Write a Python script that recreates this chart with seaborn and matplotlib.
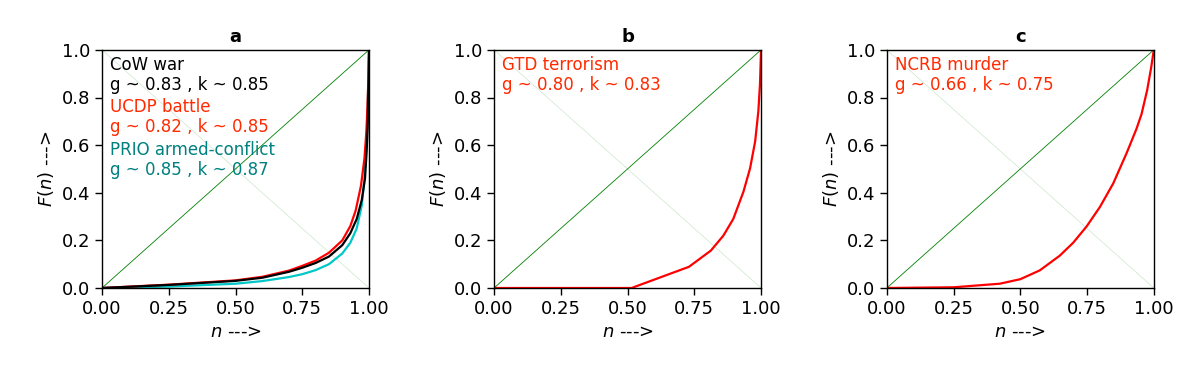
import matplotlib
matplotlib.use("Agg")
import matplotlib.pyplot as plt
import seaborn as sns
import pandas as pd

# ---- data ----
cow_n = [0.0, 0.25, 0.5, 0.6, 0.7, 0.75, 0.8, 0.85, 0.9, 0.93, 0.954, 0.973, 0.985, 0.991, 0.995, 0.999, 1.0]
cow_F = [0.0, 0.013, 0.03, 0.043, 0.068, 0.085, 0.105, 0.132, 0.18, 0.23, 0.29, 0.37, 0.46, 0.57, 0.67, 0.88, 1.0]

ucdp_n = [0.0, 0.25, 0.5, 0.6, 0.7, 0.75, 0.8, 0.85, 0.9, 0.93, 0.95, 0.97, 0.983, 0.991, 0.998, 1.0]
ucdp_F = [0.0, 0.014, 0.032, 0.047, 0.073, 0.093, 0.115, 0.148, 0.2, 0.26, 0.325, 0.43, 0.545, 0.67, 0.88, 1.0]

prio_n = [0.0, 0.25, 0.5, 0.6, 0.7, 0.75, 0.8, 0.85, 0.9, 0.93, 0.954, 0.973, 0.983, 0.99, 0.996, 1.0]
prio_F = [0.0, 0.006, 0.018, 0.029, 0.046, 0.058, 0.075, 0.1, 0.145, 0.19, 0.25, 0.347, 0.46, 0.60, 0.81, 1.0]

gtd_n = [0.0, 0.515, 0.730, 0.812, 0.859, 0.896, 0.934, 0.959, 0.978, 0.99, 0.996, 1.0]
gtd_F = [0.0, 0.0, 0.089, 0.157, 0.22, 0.29, 0.404, 0.503, 0.616, 0.743, 0.856, 1.0]

ncrb_n = [0.0, 0.25, 0.423, 0.5, 0.573, 0.648, 0.698, 0.748, 0.798, 0.848, 0.898, 0.935, 0.954, 0.975, 0.99, 1.0]
ncrb_F = [0.0, 0.003, 0.018, 0.037, 0.074, 0.136, 0.19, 0.258, 0.34, 0.439, 0.566, 0.668, 0.73, 0.83, 0.925, 1.0]

panel_titles = ["a", "b", "c"]
xticks = [0.0, 0.25, 0.5, 0.75, 1.0]
yticks = [0.0, 0.2, 0.4, 0.6, 0.8, 1.0]

sns.set_style("ticks")
plt.rcParams["font.family"] = ["DejaVu Sans"]
plt.rcParams["font.size"] = 13
for k in ["text.color", "axes.labelcolor", "xtick.color", "ytick.color", "axes.edgecolor"]:
    plt.rcParams[k] = "black"

fig = plt.figure(figsize=(12, 3.75), dpi=100)
lefts = [0.085, 0.4117, 0.739]
axes = [fig.add_axes([l, 0.232, 0.2225, 0.635]) for l in lefts]

ref = pd.DataFrame({"n": [0.0, 1.0], "F": [0.0, 1.0], "Fa": [1.0, 0.0]})

def base(ax, title):
    sns.lineplot(data=ref, x="n", y="F", ax=ax, color="green", lw=0.6)
    sns.lineplot(data=ref, x="n", y="Fa", ax=ax, color="green", lw=0.5, alpha=0.2)
    ax.set_xlim(0, 1)
    ax.set_ylim(0, 1)
    ax.set_xticks(xticks)
    ax.set_xticklabels(["0.00", "0.25", "0.50", "0.75", "1.00"])
    ax.set_yticks(yticks)
    ax.set_yticklabels(["0.0", "0.2", "0.4", "0.6", "0.8", "1.0"])
    ax.set_xlabel("$n$ --->", fontsize=13)
    ax.set_ylabel("$F(n)$ --->", fontsize=13)
    ax.set_title(title, fontweight="bold", fontsize=13)
    for s in ax.spines.values():
        s.set_visible(True)
        s.set_linewidth(1.0)
    ax.tick_params(labelsize=13, length=5, width=1)

def curve(ax, n, F, color):
    sns.lineplot(data=pd.DataFrame({"n": n, "F": F}), x="n", y="F", ax=ax,
                 color=color, lw=1.6, sort=False, estimator=None,
                 solid_joinstyle="round")

def label(ax, y, s, color):
    ax.text(0.03, y, s, color=color, fontsize=12, transform=ax.transAxes,
            va="top", linespacing=1.15)

ax = axes[0]
base(ax, panel_titles[0])
curve(ax, prio_n, prio_F, "#00c8c8")
curve(ax, ucdp_n, ucdp_F, "red")
curve(ax, cow_n, cow_F, "black")
label(ax, 0.975, "CoW war\ng ~ 0.83 , k ~ 0.85", "black")
label(ax, 0.797, "UCDP battle\ng ~ 0.82 , k ~ 0.85", "#ff2a00")
label(ax, 0.619, "PRIO armed-conflict\ng ~ 0.85 , k ~ 0.87", "#008080")

ax = axes[1]
base(ax, panel_titles[1])
curve(ax, gtd_n, gtd_F, "red")
label(ax, 0.975, "GTD terrorism\ng ~ 0.80 , k ~ 0.83", "#ff2a00")

ax = axes[2]
base(ax, panel_titles[2])
curve(ax, ncrb_n, ncrb_F, "red")
label(ax, 0.975, "NCRB murder\ng ~ 0.66 , k ~ 0.75", "#ff2a00")

fig.savefig("out.png", dpi=100)
